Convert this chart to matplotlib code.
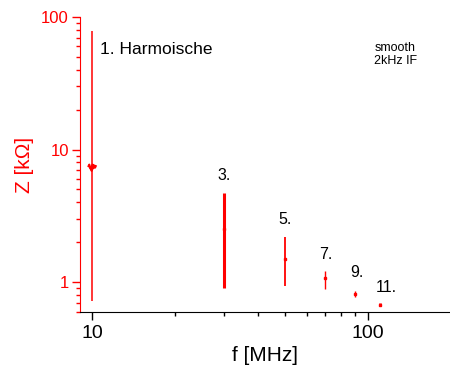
import matplotlib
matplotlib.use("Agg")
import matplotlib.pyplot as plt
from matplotlib.ticker import LogLocator, NullFormatter, FixedLocator, FixedFormatter

plt.rcParams['font.family'] = ['Liberation Sans', 'DejaVu Sans']

# harmonic data
harm_labels = ["1. Harmoische", "3.", "5.", "7.", "9.", "11."]
harm_f = [10, 30, 50, 70, 90, 110]          # MHz
z_low = [0.72, 0.90, 0.93, 0.88, 0.77, 0.66]  # kOhm
z_high = [78, 4.7, 2.2, 1.22, 0.86, 0.69]
z_mid = [7.5, 2.5, 1.5, 1.07, 0.82, 0.675]
line_w = [1.1, 2.2, 1.3, 1.0, 1.0, 2.0]

# wiggle trace around 1st harmonic
wig_f = [9.72, 9.78, 9.85, 9.92, 9.97, 10.0, 10.05, 10.1, 10.18, 10.26, 10.32]
wig_z = [7.5, 7.7, 7.2, 7.3, 6.9, 7.1, 7.7, 7.2, 7.6, 7.3, 7.5]

xticks = [10, 100]
yticks = [1, 10, 100]

fig = plt.figure(figsize=(4.5, 3.7), dpi=100)
ax = fig.add_axes([80/450, 1-312/370, 370/450, (312-17)/370])
red = '#ff0000'

for f, lo, hi, m, lw in zip(harm_f, z_low, z_high, z_mid, line_w):
    ax.vlines(f, lo, hi, color=red, lw=lw)
    ax.plot([f], [m], marker='s', ms=1.8, color=red, lw=0)
ax.plot(wig_f, wig_z, color=red, lw=1.5)

ax.set_xscale('log')
ax.set_yscale('log')
ax.set_xlim(9.05, 198)
ax.set_ylim(0.595, 100)

ax.spines['top'].set_visible(False)
ax.spines['right'].set_visible(False)
ax.spines['left'].set_color(red)

ax.xaxis.set_major_locator(FixedLocator(xticks))
ax.xaxis.set_major_formatter(FixedFormatter([str(t) for t in xticks]))
ax.xaxis.set_minor_locator(LogLocator(base=10, subs=range(2, 10)))
ax.xaxis.set_minor_formatter(NullFormatter())
ax.yaxis.set_major_locator(FixedLocator(yticks))
ax.yaxis.set_major_formatter(FixedFormatter([str(t) for t in yticks]))
ax.yaxis.set_minor_locator(LogLocator(base=10, subs=range(2, 10)))
ax.yaxis.set_minor_formatter(NullFormatter())

ax.tick_params(axis='x', which='major', length=6, width=1, labelsize=14, pad=3)
ax.tick_params(axis='x', which='minor', length=3, width=1)
ax.tick_params(axis='y', which='major', length=6, width=1, colors=red, labelsize=12, pad=2)
ax.tick_params(axis='y', which='minor', length=3, width=1, colors=red)

ax.set_xlabel("f [MHz]", fontsize=15, labelpad=3)
ax.set_ylabel("Z [k\u03a9]", fontsize=15, color=red, labelpad=5)

label_pos = [(10.65, 50), (30, 5.6), (50, 2.62), (70, 1.42), (91, 1.04), (116, 0.8)]
for txt, (x, y) in zip(harm_labels, label_pos):
    first = txt.startswith('1.')
    ax.text(x, y, txt, fontsize=12.5 if first else 11.5, ha='left' if first else 'center',
            va='bottom')

ax.text(0.795, 0.83, "smooth\n2kHz IF", transform=ax.transAxes, fontsize=9,
        ha='left', va='bottom', linespacing=1.15)

fig.savefig("out.png", dpi=100)
